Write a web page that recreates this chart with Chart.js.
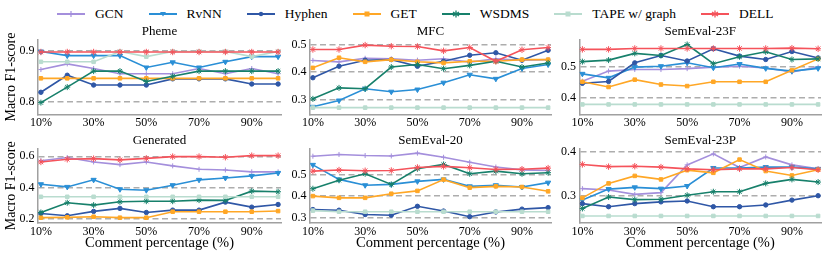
<!DOCTYPE html>
<html>
<head>
<meta charset="utf-8">
<script src="https://cdn.jsdelivr.net/npm/chart.js@4.4.1/dist/chart.umd.min.js"></script>
<style>
  html, body { margin: 0; padding: 0; background: #fff; }
  body { width: 830px; height: 257px; position: relative; overflow: hidden; font-family: 'Liberation Serif', 'Times New Roman', serif; }
  .panel { position: absolute; }
  #legend { position: absolute; left: 57px; top: 4px; height: 20px; display: flex; align-items: center; font-size: 13.5px; color: #000; white-space: nowrap; }
  .item { display: flex; align-items: center; margin-right: 25px; }
  .item svg { margin-right: 10px; }
</style>
</head>
<body>
<div id="legend"></div>
<div class="panel" style="left:0px;top:24px;width:286px;height:104px"><canvas id="c0"></canvas></div>
<div class="panel" style="left:280px;top:24px;width:276px;height:104px"><canvas id="c1"></canvas></div>
<div class="panel" style="left:550px;top:24px;width:276px;height:104px"><canvas id="c2"></canvas></div>
<div class="panel" style="left:0px;top:133px;width:286px;height:119px"><canvas id="c3"></canvas></div>
<div class="panel" style="left:280px;top:133px;width:276px;height:119px"><canvas id="c4"></canvas></div>
<div class="panel" style="left:550px;top:133px;width:276px;height:119px"><canvas id="c5"></canvas></div>
<script>
// ---- data ----
const percentages = [10, 20, 30, 40, 50, 60, 70, 80, 90, 100];
const xTickValues = [10, 30, 50, 70, 90];
const methods = ['GCN', 'RvNN', 'Hyphen', 'GET', 'WSDMS', 'TAPE w/ graph', 'DELL'];
const panelTitles = ['Pheme', 'MFC', 'SemEval-23F', 'Generated', 'SemEval-20', 'SemEval-23P'];

// Pheme
const phemeGCN    = [0.863, 0.874, 0.865, 0.855, 0.855, 0.855, 0.865, 0.855, 0.865, 0.855];
const phemeRvNN   = [0.898, 0.890, 0.890, 0.890, 0.867, 0.877, 0.867, 0.878, 0.888, 0.888];
const phemeHyphen = [0.819, 0.852, 0.833, 0.833, 0.833, 0.845, 0.845, 0.845, 0.835, 0.835];
const phemeGET    = [0.846, 0.846, 0.846, 0.846, 0.846, 0.846, 0.846, 0.846, 0.846, 0.846];
const phemeWSDMS  = [0.799, 0.829, 0.860, 0.860, 0.840, 0.850, 0.860, 0.860, 0.860, 0.860];
const phemeTAPE   = [0.878, 0.878, 0.878, 0.898, 0.888, 0.898, 0.898, 0.898, 0.888, 0.898];
const phemeDELL   = [0.897, 0.897, 0.897, 0.897, 0.897, 0.897, 0.897, 0.897, 0.897, 0.897];
const phemeYTicks = [0.8, 0.9];

// MFC
const mfcGCN    = [0.442, 0.437, 0.450, 0.448, 0.443, 0.448, 0.436, 0.448, 0.443, 0.445];
const mfcRvNN   = [0.273, 0.296, 0.339, 0.328, 0.336, 0.361, 0.390, 0.375, 0.413, 0.427];
const mfcHyphen = [0.379, 0.421, 0.443, 0.445, 0.421, 0.439, 0.461, 0.470, 0.443, 0.479];
const mfcGET    = [0.415, 0.452, 0.437, 0.445, 0.437, 0.433, 0.439, 0.439, 0.445, 0.445];
const mfcWSDMS  = [0.302, 0.342, 0.339, 0.418, 0.427, 0.412, 0.424, 0.439, 0.418, 0.433];
const mfcTAPE   = [0.270, 0.270, 0.270, 0.270, 0.270, 0.270, 0.270, 0.270, 0.270, 0.270];
const mfcDELL   = [0.482, 0.482, 0.498, 0.494, 0.493, 0.477, 0.489, 0.439, 0.481, 0.489];
const mfcYTicks = [0.3, 0.4, 0.5];

// SemEval-23F
const s23fGCN    = [0.454, 0.487, 0.492, 0.492, 0.495, 0.500, 0.503, 0.497, 0.484, 0.500];
const s23fRvNN   = [0.478, 0.465, 0.500, 0.503, 0.514, 0.498, 0.510, 0.496, 0.487, 0.496];
const s23fHyphen = [0.447, 0.453, 0.514, 0.538, 0.520, 0.560, 0.536, 0.525, 0.551, 0.530];
const s23fGET    = [0.452, 0.435, 0.459, 0.443, 0.438, 0.452, 0.452, 0.452, 0.490, 0.527];
const s23fWSDMS  = [0.518, 0.523, 0.545, 0.538, 0.574, 0.511, 0.534, 0.550, 0.525, 0.527];
const s23fTAPE   = [0.378, 0.378, 0.378, 0.378, 0.378, 0.378, 0.378, 0.378, 0.378, 0.378];
const s23fDELL   = [0.558, 0.558, 0.561, 0.561, 0.561, 0.561, 0.561, 0.561, 0.562, 0.560];
const s23fYTicks = [0.4, 0.5];

// Generated
const genGCN    = [0.572, 0.592, 0.564, 0.547, 0.564, 0.539, 0.517, 0.513, 0.501, 0.501];
const genRvNN   = [0.422, 0.405, 0.450, 0.390, 0.384, 0.416, 0.450, 0.462, 0.475, 0.494];
const genHyphen = [0.236, 0.221, 0.249, 0.268, 0.242, 0.257, 0.257, 0.308, 0.276, 0.293];
const genGET    = [0.209, 0.211, 0.215, 0.209, 0.209, 0.247, 0.247, 0.247, 0.247, 0.251];
const genWSDMS  = [0.242, 0.304, 0.289, 0.310, 0.314, 0.314, 0.321, 0.319, 0.378, 0.374];
const genTAPE   = [0.342, 0.342, 0.342, 0.342, 0.342, 0.342, 0.342, 0.342, 0.342, 0.342];
const genDELL   = [0.564, 0.581, 0.585, 0.577, 0.587, 0.598, 0.598, 0.594, 0.604, 0.604];
const genYTicks = [0.2, 0.4, 0.6];

// SemEval-20
const s20GCN    = [0.584, 0.592, 0.587, 0.585, 0.598, 0.579, 0.556, 0.534, 0.521, 0.518];
const s20RvNN   = [0.544, 0.477, 0.450, 0.454, 0.468, 0.477, 0.445, 0.450, 0.442, 0.462];
const s20Hyphen = [0.338, 0.335, 0.315, 0.312, 0.353, 0.331, 0.305, 0.327, 0.340, 0.347];
const s20GET    = [0.400, 0.392, 0.392, 0.411, 0.424, 0.476, 0.439, 0.445, 0.442, 0.422];
const s20WSDMS  = [0.434, 0.473, 0.503, 0.454, 0.526, 0.546, 0.503, 0.515, 0.503, 0.508];
const s20TAPE   = [0.333, 0.328, 0.328, 0.328, 0.328, 0.328, 0.328, 0.328, 0.328, 0.328];
const s20DELL   = [0.515, 0.520, 0.517, 0.518, 0.532, 0.537, 0.531, 0.523, 0.524, 0.529];
const s20YTicks = [0.3, 0.4, 0.5];

// SemEval-23P
const s23pGCN    = [0.317, 0.314, 0.304, 0.308, 0.371, 0.396, 0.365, 0.389, 0.371, 0.362];
const s23pRvNN   = [0.291, 0.316, 0.320, 0.317, 0.323, 0.364, 0.364, 0.366, 0.366, 0.362];
const s23pHyphen = [0.283, 0.276, 0.283, 0.287, 0.289, 0.276, 0.276, 0.280, 0.291, 0.301];
const s23pGET    = [0.296, 0.329, 0.346, 0.338, 0.359, 0.353, 0.383, 0.357, 0.347, 0.360];
const s23pWSDMS  = [0.272, 0.298, 0.292, 0.293, 0.302, 0.310, 0.310, 0.329, 0.338, 0.332];
const s23pTAPE   = [0.255, 0.255, 0.255, 0.255, 0.255, 0.255, 0.255, 0.255, 0.255, 0.255];
const s23pDELL   = [0.372, 0.367, 0.368, 0.366, 0.362, 0.360, 0.362, 0.362, 0.365, 0.360];
const s23pYTicks = [0.3, 0.4];

// ---- styling ----
const colors = ['#a48fdc', '#2a8fd6', '#2f57a6', '#ffa726', '#17806b', '#b9dccf', '#f5535b'];
const markers = [
  { style: 'cross', r: 2.5, rot: 0 },
  { style: 'triangle', r: 3, rot: 180 },
  { style: 'circle', r: 2.2, rot: 0 },
  { style: 'rect', r: 2.5, rot: 0 },
  { style: 'star', r: 3, rot: 0 },
  { style: 'rect', r: 2.5, rot: 0 },
  { style: 'star', r: 3.2, rot: 0 }
];
const FONT = "'Liberation Serif', 'Times New Roman', serif";

const panels = [
  { series: [phemeGCN, phemeRvNN, phemeHyphen, phemeGET, phemeWSDMS, phemeTAPE, phemeDELL], ticks: phemeYTicks, min: 0.776, max: 0.921 },
  { series: [mfcGCN, mfcRvNN, mfcHyphen, mfcGET, mfcWSDMS, mfcTAPE, mfcDELL], ticks: mfcYTicks, min: 0.245, max: 0.518 },
  { series: [s23fGCN, s23fRvNN, s23fHyphen, s23fGET, s23fWSDMS, s23fTAPE, s23fDELL], ticks: s23fYTicks, min: 0.345, max: 0.590 },
  { series: [genGCN, genRvNN, genHyphen, genGET, genWSDMS, genTAPE, genDELL], ticks: genYTicks, min: 0.175, max: 0.649 },
  { series: [s20GCN, s20RvNN, s20Hyphen, s20GET, s20WSDMS, s20TAPE, s20DELL], ticks: s20YTicks, min: 0.276, max: 0.619 },
  { series: [s23pGCN, s23pRvNN, s23pHyphen, s23pGET, s23pWSDMS, s23pTAPE, s23pDELL], ticks: s23pYTicks, min: 0.239, max: 0.408 }
];

// legend (html)
const legendEl = document.getElementById('legend');
methods.forEach((m, i) => {
  const c = colors[i];
  let mk = '';
  if (markers[i].style === 'circle') mk = `<circle cx="14" cy="6" r="2.2" fill="${c}"/>`;
  else if (markers[i].style === 'triangle') mk = `<polygon points="11,4 17,4 14,8.5" fill="${c}"/>`;
  else if (markers[i].style === 'cross') mk = `<path d="M14 3 V9 M11 6 H17" stroke="${c}" stroke-width="1.2"/>`;
  else if (markers[i].style === 'rect') mk = `<rect x="11.5" y="3.5" width="5" height="5" fill="${c}"/>`;
  else mk = `<path d="M14 2.5 V9.5 M11 4 L17 8 M11 8 L17 4" stroke="${c}" stroke-width="1.3"/>`;
  const div = document.createElement('div');
  div.className = 'item';
  div.innerHTML = `<svg width="28" height="12"><line x1="0" y1="6" x2="28" y2="6" stroke="${c}" stroke-width="2"/>${mk}</svg><span>${m}</span>`;
  legendEl.appendChild(div);
});

// charts
panels.forEach((p, k) => {
  const col = k % 3;
  const row = Math.floor(k / 3);
  const yWidth = col === 0 ? 38 : (col === 1 ? 30 : 29.5);
  const xHeight = row === 0 ? 13.5 : 29;

  const datasets = p.series.map((vals, i) => ({
    label: methods[i],
    data: percentages.map((x, j) => ({ x: x, y: vals[j] })),
    borderColor: colors[i],
    backgroundColor: colors[i],
    pointBackgroundColor: colors[i],
    pointBorderColor: colors[i],
    borderWidth: 1.6,
    pointStyle: markers[i].style,
    pointRadius: markers[i].r,
    pointRotation: markers[i].rot,
    pointBorderWidth: 1,
    order: 6 - i
  }));

  new Chart(document.getElementById('c' + k), {
    type: 'line',
    data: { datasets: datasets },
    options: {
      responsive: true,
      maintainAspectRatio: false,
      animation: false,
      devicePixelRatio: 1,
      layout: { padding: 0 },
      plugins: {
        legend: { display: false },
        tooltip: { enabled: false },
        title: {
          display: true,
          text: panelTitles[k],
          fullSize: false,
          color: '#000',
          font: { family: FONT, size: 13, weight: 'normal', lineHeight: 1.2 },
          padding: { top: 0, bottom: 0 }
        }
      },
      scales: {
        x: {
          type: 'linear',
          min: 8.9,
          max: 101.1,
          afterBuildTicks: s => { s.ticks = xTickValues.map(v => ({ value: v })); },
          afterFit: s => { s.height = xHeight; },
          grid: { display: false, drawTicks: false },
          border: { display: true, color: '#a0a0a0', width: 1.5 },
          ticks: {
            color: '#000',
            padding: 1.5,
            maxRotation: 0,
            font: { family: FONT, size: 12 },
            callback: v => v + '%'
          },
          title: {
            display: row === 1,
            text: 'Comment percentage (%)',
            color: '#000',
            font: { family: FONT, size: 14.5 },
            padding: { top: 0, bottom: 0 }
          }
        },
        y: {
          type: 'linear',
          min: p.min,
          max: p.max,
          afterBuildTicks: s => { s.ticks = p.ticks.map(v => ({ value: v })); },
          afterFit: s => { s.width = yWidth; },
          grid: { display: true, color: '#adadad', lineWidth: 1.4, drawTicks: false },
          border: { display: true, color: '#a0a0a0', width: 1.5, dash: [6, 3.5] },
          ticks: {
            color: '#000',
            padding: 3.5,
            font: { family: FONT, size: 12 },
            callback: v => Number(v).toFixed(1)
          },
          title: {
            display: col === 0,
            text: 'Macro F1-score',
            color: '#000',
            font: { family: FONT, size: 14 },
            padding: { top: 3, bottom: 0 }
          }
        }
      }
    }
  });
});
</script>
</body>
</html>
